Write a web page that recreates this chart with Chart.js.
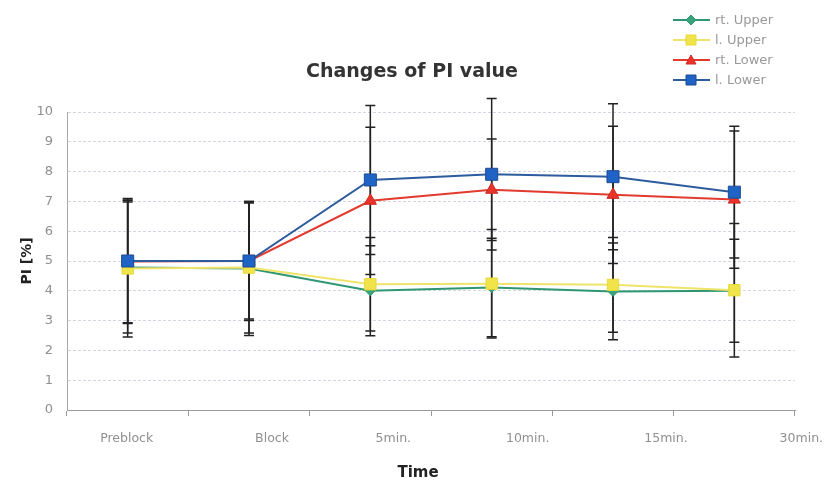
<!DOCTYPE html>
<html>
<head>
<meta charset="utf-8">
<script src="https://cdn.jsdelivr.net/npm/chart.js"></script>
<style>
  html, body { margin: 0; padding: 0; background: #fff; }
  #wrap { width: 824px; height: 482px; }
</style>
</head>
<body>
<div id="wrap"><canvas id="piChart" width="824" height="482"></canvas></div>
<script>
// donnees
const categories = ['Preblock', 'Block', '5min.', '10min.', '15min.', '30min.'];
const rtUpper   = [4.78, 4.75, 4.00, 4.11, 3.98, 4.00];
const rtUpperSD = [2.20, 2.25, 1.51, 1.65, 1.62, 1.73];
const lUpper    = [4.75, 4.78, 4.22, 4.24, 4.20, 4.02];
const lUpperSD  = [2.30, 2.20, 1.57, 1.82, 1.59, 2.24];
const rtLower   = [4.98, 5.00, 7.02, 7.39, 7.22, 7.06];
const rtLowerSD = [2.05, 1.95, 2.47, 1.70, 2.30, 2.30];
const lLower    = [5.00, 5.00, 7.72, 7.91, 7.83, 7.31];
const lLowerSD  = [2.10, 2.00, 2.50, 2.54, 2.45, 2.21];
const yMin = 0, yMax = 10, yStep = 1;

// decalage des libelles de l'axe x (comme sur l'original)
const labelNudge = [-1, 23, 23, 36, 53, 67];

const FONT = '"DejaVu Sans", sans-serif';

function drawMarker(ctx, style, x, y, r, fill, stroke) {
  ctx.save();
  ctx.fillStyle = fill;
  ctx.strokeStyle = stroke;
  ctx.lineWidth = 1;
  ctx.beginPath();
  if (style === 'rect') {
    ctx.rect(x - r, y - r, 2 * r, 2 * r);
  } else if (style === 'triangle') {
    ctx.moveTo(x, y - r);
    ctx.lineTo(x + r, y + r * 0.8);
    ctx.lineTo(x - r, y + r * 0.8);
    ctx.closePath();
  } else {
    ctx.moveTo(x, y - r);
    ctx.lineTo(x + r, y);
    ctx.lineTo(x, y + r);
    ctx.lineTo(x - r, y);
    ctx.closePath();
  }
  ctx.fill();
  ctx.stroke();
  ctx.restore();
}

const extras = {
  id: 'extras',
  // barres d'erreur sous les marqueurs
  beforeDatasetsDraw(chart) {
    const ctx = chart.ctx;
    const yScale = chart.scales.y;
    ctx.save();
    ctx.strokeStyle = '#222';
    ctx.lineWidth = 1.5;
    chart.data.datasets.forEach((ds, di) => {
      const meta = chart.getDatasetMeta(di);
      meta.data.forEach((pt, i) => {
        const sd = ds.sd[i];
        const top = yScale.getPixelForValue(ds.data[i] + sd);
        const bot = yScale.getPixelForValue(ds.data[i] - sd);
        ctx.beginPath();
        ctx.moveTo(pt.x, top); ctx.lineTo(pt.x, bot);
        ctx.moveTo(pt.x - 5, top); ctx.lineTo(pt.x + 5, top);
        ctx.moveTo(pt.x - 5, bot); ctx.lineTo(pt.x + 5, bot);
        ctx.stroke();
      });
    });
    ctx.restore();
  },
  afterDraw(chart) {
    const ctx = chart.ctx;
    const xScale = chart.scales.x;
    ctx.save();
    ctx.textBaseline = 'middle';
    // titre
    ctx.fillStyle = '#333';
    ctx.textAlign = 'center';
    ctx.font = 'bold 19px ' + FONT;
    ctx.fillText('Changes of PI value', 412, 72);
    ctx.font = 'bold 15px ' + FONT;
    ctx.fillStyle = '#222';
    ctx.fillText('Time', 418, 473);
    // libelles x
    ctx.font = '12.5px ' + FONT;
    ctx.fillStyle = '#8f8f8f';
    categories.forEach((c, i) => {
      ctx.fillText(c, xScale.getPixelForValue(i) + labelNudge[i], 439);
    });
    // legende
    const items = chart.data.datasets.slice().reverse();
    items.forEach((ds, k) => {
      const y = 20 + k * 20;
      ctx.strokeStyle = ds.borderColor;
      ctx.lineWidth = 2;
      ctx.beginPath();
      ctx.moveTo(673, y); ctx.lineTo(710, y);
      ctx.stroke();
      drawMarker(ctx, ds.pointStyle, 691, y, 5, ds.pointBackgroundColor, ds.pointBorderColor);
      ctx.fillStyle = '#999';
      ctx.textAlign = 'left';
      ctx.font = '13px ' + FONT;
      ctx.fillText(ds.label, 715, y + 1);
    });
    ctx.restore();
  }
};

new Chart(document.getElementById('piChart').getContext('2d'), {
  type: 'line',
  data: {
    labels: categories,
    datasets: [{
      label: 'l. Lower',
      data: lLower,
      sd: lLowerSD,
      borderColor: '#2d5c9e',
      pointBackgroundColor: '#1f63c6',
      pointBorderColor: '#1d4b8e',
      pointStyle: 'rect',
      pointRadius: 8.5
    }, {
      label: 'rt. Lower',
      data: rtLower,
      sd: rtLowerSD,
      borderColor: '#e23a2e',
      pointBackgroundColor: '#e8322a',
      pointBorderColor: '#d02a22',
      pointStyle: 'triangle',
      pointRadius: 7
    }, {
      label: 'l. Upper',
      data: lUpper,
      sd: lUpperSD,
      borderColor: '#efe46a',
      pointBackgroundColor: '#f1e44a',
      pointBorderColor: '#e6d93c',
      pointStyle: 'rect',
      pointRadius: 8
    }, {
      label: 'rt. Upper',
      data: rtUpper,
      sd: rtUpperSD,
      borderColor: '#2f9672',
      pointBackgroundColor: '#3aa37c',
      pointBorderColor: '#2f9672',
      pointStyle: 'rectRot',
      pointRadius: 5
    }]
  },
  options: {
    responsive: false,
    animation: false,
    devicePixelRatio: 1,
    layout: { padding: { top: 112, right: 29, bottom: 0, left: 0 } },
    elements: { line: { borderWidth: 2, tension: 0 } },
    plugins: {
      legend: { display: false },
      tooltip: { enabled: false },
      title: { display: false }
    },
    scales: {
      x: {
        type: 'category',
        offset: true,
        grid: { offset: true, drawOnChartArea: false, drawTicks: true, tickLength: 6, color: '#9a9a9a' },
        border: { color: '#9a9a9a' },
        ticks: { display: false },
        afterFit(scale) { scale.height = 72; }
      },
      y: {
        min: yMin, max: yMax,
        ticks: { stepSize: yStep, color: '#8f8f8f', padding: 14, font: { family: FONT, size: 13 } },
        grid: { drawTicks: false, color: '#d2d6e0' },
        border: { color: '#a8a8a8', dash: [3, 2] },
        title: {
          display: true, text: 'PI [%]', color: '#222',
          font: { family: FONT, size: 14, weight: 'bold' },
          padding: { top: 19, bottom: 0 }
        },
        afterFit(scale) { scale.width = 67; }
      }
    }
  },
  plugins: [extras]
});
</script>
</body>
</html>
